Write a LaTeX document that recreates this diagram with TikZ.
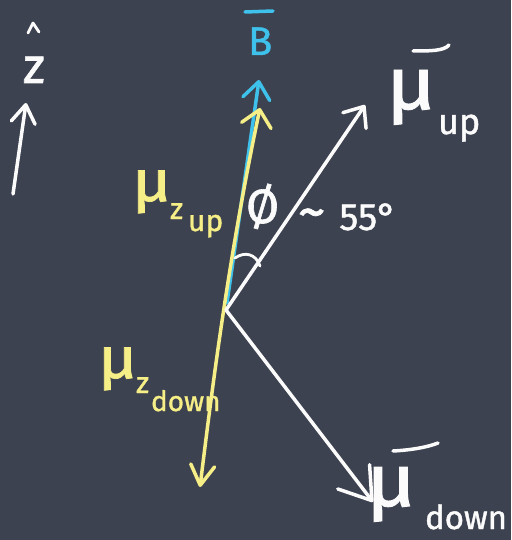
\documentclass[tikz,border=0pt]{standalone}
\usepackage{fontspec}
\usepackage{graphicx}
\setmainfont{Fira Sans}[FakeBold=1.2]
\usetikzlibrary{arrows.meta}
\definecolor{board}{HTML}{3D4250}
\definecolor{chalkY}{HTML}{F6EE86}
\definecolor{chalkB}{HTML}{3EC1EA}
\definecolor{chalkW}{HTML}{FBFBFB}
\newcommand{\widemu}{\scalebox{1.15}[1]{μ}}
\begin{document}
\begin{tikzpicture}[x=1pt,y=-1pt,
  chalk/.style={line width=3.5pt,line cap=round,line join=round},
  lbl/.style={inner sep=0pt,outer sep=0pt,anchor=base west},
  fs/.style={font=\fontsize{#1}{#1}\selectfont},
  barbtip/.style 2 args={-{Straight Barb[length=#1pt,width=#2pt,round]}}]
  % board
  \fill[board] (0,0) rectangle (511,540);
  \useasboundingbox (0,0) rectangle (511,540);

  % points
  \coordinate (o) at (226,310);
  \coordinate (ob) at (227,303);
  \coordinate (bt) at (259,80);
  \coordinate (yt) at (260,108);
  \coordinate (yb) at (200,487);
  \coordinate (mu) at (365,105);
  \coordinate (md) at (373,502);
  \coordinate (zt) at (26,103);
  \coordinate (zb) at (13,194);

  % z axis
  \draw[chalk,chalkW,barbtip={18}{24}] (zb) -- (zt);
  \node[lbl,fs=50,text=chalkW] (zlab) at (23,83) {z};
  \draw[chalk,chalkW,line width=2.8pt] (28,33) -- (33,23) -- (39,32);

  % B field (blue)
  \draw[chalk,chalkB,barbtip={17}{27}] (ob) -- (bt);
  \node[lbl,fs=40,text=chalkB] (Blab) at (248,55) {B};
  \draw[chalk,chalkB] (245,12) -- (273,11);

  % yellow projection
  \draw[chalk,chalkY,{Straight Barb[length=20pt,width=24pt,round]}-{Straight Barb[length=16pt,width=30pt,round]}]
    (yb) .. controls (212,390) and (228,260) .. (yt);

  % white vectors
  \draw[chalk,chalkW,barbtip={17}{28}] (o) -- (mu);
  \draw[chalk,chalkW,barbtip={30}{40}] (o) -- (md);

  % angle arc
  \draw[chalk,chalkW,line width=2.8pt] (235,258) .. controls (245,251) and (256,254) .. (260,266);

  % labels white
  \node[lbl,fs=74,text=chalkW] (muup) at (386,109) {\widemu};
  \node[lbl,fs=36,text=chalkW] (upw) at (438,134) {up};
  \draw[chalk,chalkW] (413,51) .. controls (430,51) and (444,51) .. (449,45);

  \node[lbl,fs=74,text=chalkW] (mudown) at (366,506) {\widemu};
  \node[lbl,fs=33,text=chalkW] (downw) at (425,529) {down};
  \draw[chalk,chalkW] (393,451) .. controls (412,450) and (428,447) .. (438,443);

  \node[lbl,fs=48,text=chalkW] (phi) at (246,223) {Ø};
  \node[lbl,fs=38,text=chalkW] (ang) at (298,230) {{\fontsize{56}{56}\selectfont\textasciitilde}\hspace{14pt}55°};

  % labels yellow
  \node[lbl,fs=58,text=chalkY] (muzu) at (132,201) {\widemu};
  \node[lbl,fs=30,text=chalkY] (zu) at (170,219) {z};
  \node[lbl,fs=30,text=chalkY] (upy) at (188,231) {up};

  \node[lbl,fs=58,text=chalkY] (muzd) at (98,378) {\widemu};
  \node[lbl,fs=30,text=chalkY] (zd) at (136,393) {z};
  \node[lbl,fs=28,text=chalkY] (downy) at (151,411) {down};
\end{tikzpicture}
\end{document}
